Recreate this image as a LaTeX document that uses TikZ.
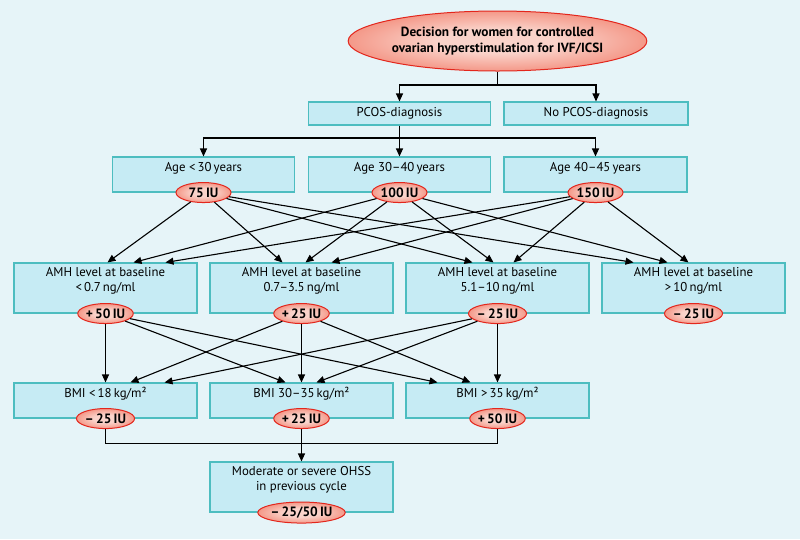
\documentclass[tikz,border=0pt]{standalone}
\usepackage{fontspec}
\setmainfont{PT Sans}
\usetikzlibrary{arrows.meta,shapes.geometric,calc}
\definecolor{bgc}{HTML}{E6F4F8}
\definecolor{boxfill}{HTML}{C6EBF4}
\definecolor{boxline}{HTML}{4DBDC0}
\definecolor{ellred}{HTML}{E3261C}
\definecolor{ellin}{HTML}{FAD3CA}
\definecolor{ellmid}{HTML}{F28573}
\definecolor{ellout}{HTML}{EC5443}
\pgfdeclareradialshading{ellshade}{\pgfpoint{0bp}{0bp}}{%
  color(0bp)=(ellin); color(10bp)=(ellin); color(30bp)=(ellmid); color(44bp)=(ellout); color(72bp)=(ellout)}
\begin{document}
\begin{tikzpicture}[x=1pt,y=-1pt,
  box/.style={draw=boxline, fill=boxfill, line width=1.1pt, inner sep=0pt, minimum width=183pt},
  btext/.style={font=\fontsize{12.8}{15}\selectfont, align=center, inner sep=0pt, text=black},
  redell/.style={ellipse, draw=ellred, line width=1pt, shading=ellshade},
  iu/.style={redell, minimum width=55pt, minimum height=20pt, inner sep=0pt,
     font=\bfseries\fontsize{13.5}{14}\selectfont},
  arr/.style={line width=1.1pt, -{Triangle[length=8pt,width=7pt]}},
  ln/.style={line width=1.1pt}]
\fill[bgc] (0,0) rectangle (800,539);
\useasboundingbox (0,0) rectangle (800,539);

% top
\node[redell, minimum width=292pt, minimum height=60pt, inner sep=0pt, align=center,
  font=\bfseries\fontsize{13.3}{16.5}\selectfont] (top) at (497.5,41)
  {Decision for women for controlled\\ovarian hyperstimulation for IVF/ICSI};

% PCOS
\node[box, minimum width=182pt, minimum height=23pt] (pcos) at (399.5,113.5) {};
\node[btext] (pcost) at (pcos) {PCOS-diagnosis};
\node[box, minimum width=184pt, minimum height=23pt] (nopcos) at (596,113.5) {};
\node[btext] (nopcost) at (nopcos) {No PCOS-diagnosis};

\coordinate (j1) at (497.5,85);
\draw[ln] (top.south) -- (j1);
\draw[arr] (j1) -| (pcos.north);
\draw[arr] (j1) -| (nopcos.north);

% Age
\node[box, minimum width=182pt, minimum height=35pt] (age1) at (203.5,174.5) {};
\node[box, minimum width=182pt, minimum height=35pt] (age2) at (399.5,174.5) {};
\node[box, minimum width=183pt, minimum height=35pt] (age3) at (595.5,174.5) {};
\node[btext] (age1t) at (203.5,168) {Age <\,30\,years};
\node[btext] (age2t) at (399.5,168) {Age 30–40\,years};
\node[btext] (age3t) at (595.5,168) {Age 40–45\,years};
\node[iu] (e75) at (age1.south) {75\,IU};
\node[iu] (e100) at (age2.south) {100\,IU};
\node[iu] (e150) at (age3.south) {150\,IU};

\coordinate (j2) at (399.5,138);
\draw[ln] (pcos.south) -- (j2);
\draw[arr] (j2) -| (age1.north);
\draw[arr] (j2) -- (age2.north);
\draw[arr] (j2) -| (age3.north);

% AMH
\node[box, minimum height=50pt] (amh1) at (105.5,288) {};
\node[box, minimum height=50pt] (amh2) at (301.5,288) {};
\node[box, minimum height=50pt] (amh3) at (497.5,288) {};
\node[box, minimum height=50pt] (amh4) at (693.5,288) {};
\node[btext] (amh1t) at (105.5,280.5) {AMH level at baseline\\<\,0.7\,ng/ml};
\node[btext] (amh2t) at (301.5,280.5) {AMH level at baseline\\0.7–3.5\,ng/ml};
\node[btext] (amh3t) at (497.5,280.5) {AMH level at baseline\\5.1–10\,ng/ml};
\node[btext] (amh4t) at (693.5,280.5) {AMH level at baseline\\>\,10\,ng/ml};
\node[iu] (a1) at (amh1.south) {+\,50\,IU};
\node[iu] (a2) at (amh2.south) {+\,25\,IU};
\node[iu] (a3) at (amh3.south) {–\,25\,IU};
\node[iu] (a4) at (amh4.south) {–\,25\,IU};

% age -> AMH
\draw[arr] (e75) -- ($(amh1.north)+(2,0)$);
\draw[arr] (e100) -- ($(amh1.north)+(28,0)$);
\draw[arr] (e150) -- ($(amh1.north)+(60,0)$);
\draw[arr] (e75) -- ($(amh2.north)+(-19,0)$);
\draw[arr] (e100) -- ($(amh2.north)+(4,0)$);
\draw[arr] (e150) -- ($(amh2.north)+(30,0)$);
\draw[arr] (e75) -- ($(amh3.north)+(-25,0)$);
\draw[arr] (e100) -- ($(amh3.north)+(-4,0)$);
\draw[arr] (e150) -- ($(amh3.north)+(16,0)$);
\draw[arr] (e75) -- ($(amh4.north)+(-60,0)$);
\draw[arr] (e100) -- ($(amh4.north)+(-26,0)$);
\draw[arr] (e150) -- ($(amh4.north)+(-5,0)$);

% BMI
\node[box, minimum height=35pt] (bmi1) at (105.5,400.5) {};
\node[box, minimum height=35pt] (bmi2) at (301.5,400.5) {};
\node[box, minimum height=35pt] (bmi3) at (497.5,400.5) {};
\node[btext] (bmi1t) at (105.5,394) {BMI <\,18\,kg/m²};
\node[btext] (bmi2t) at (301.5,394) {BMI 30–35\,kg/m²};
\node[btext] (bmi3t) at (497.5,394) {BMI >\,35\,kg/m²};
\node[iu] (b1) at (bmi1.south) {–\,25\,IU};
\node[iu] (b2) at (bmi2.south) {+\,25\,IU};
\node[iu] (b3) at (bmi3.south) {+\,50\,IU};

% AMH -> BMI
\draw[arr] (a1) -- (bmi1.north);
\draw[arr] (a2) -- ($(bmi1.north)+(25,0)$);
\draw[arr] (a3) -- ($(bmi1.north)+(59,0)$);
\draw[arr] (a1) -- ($(bmi2.north)+(-16,0)$);
\draw[arr] (a2) -- (bmi2.north);
\draw[arr] (a3) -- ($(bmi2.north)+(15,0)$);
\draw[arr] (a1) -- ($(bmi3.north)+(-60,0)$);
\draw[arr] (a2) -- ($(bmi3.north)+(-27,0)$);
\draw[arr] (a3) -- (bmi3.north);

% OHSS
\node[box, minimum height=50pt] (ohss) at (301.5,487) {};
\node[btext] (ohsst) at (301.5,479.5) {Moderate or severe OHSS\\in previous cycle};
\node[iu, minimum width=73pt, minimum height=21pt] (o1) at (ohss.south) {–\,25/50\,IU};

\coordinate (j3) at (105.5,443.5);
\coordinate (j4) at (497.5,443.5);
\draw[ln] (b1.south) -- (j3) -- (j4) -- (b3.south);
\draw[arr] (b2.south) -- (ohss.north);
\end{tikzpicture}
\end{document}
